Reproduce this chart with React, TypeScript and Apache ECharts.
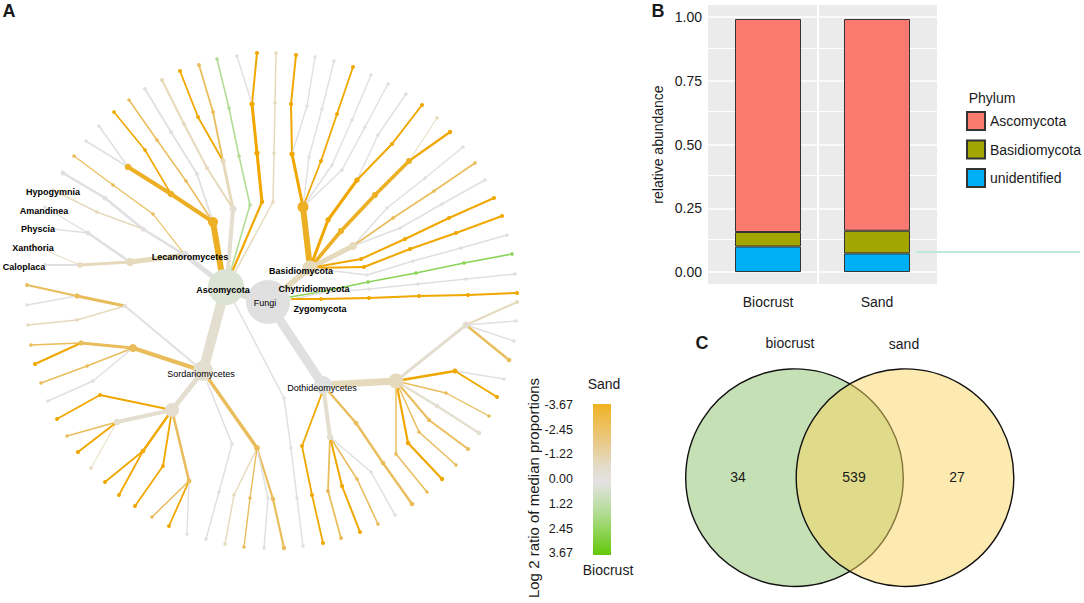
import React, { useEffect, useRef } from "react";
import * as echarts from "echarts";

// ---------- Panel B data ----------
const samples = ["Biocrust", "Sand"];
const phyla = ["Ascomycota", "Basidiomycota", "unidentified"];
const unidentified = [0.1, 0.073];
const basidiomycota = [0.057, 0.089];
const ascomycota = [0.836, 0.831];
const relTicks = [0, 0.25, 0.5, 0.75, 1];
const relMinor = [0.125, 0.375, 0.625, 0.875];

// ---------- Panel A legend ----------
const ratioTicks = ["-3.67", "-2.45", "-1.22", "0.00", "1.22", "2.45", "3.67"];

// ---------- Panel C data ----------
const vennCounts = ["34", "539", "27"];
const vennNames = ["biocrust", "sand"];

// ---------- Panel A data: [log2 ratio, abundance, x, y, x, y, ...] ----------
const O = -3.67, O2 = -3.2, T = -2.5, S = -1.25, P = -0.6, Z = 0, GL = 1.6, G = 3.2;
const lecanoro = [
  [0.2, 10, 226, 287, 268, 302],
  [Z, 5, 226, 287, 185, 255],
  [S, 5, 185, 255, 130, 262],
  [S, 3.2, 130, 262, 80, 265],
  [Z, 2, 80, 265, 45, 265],
  [S, 1, 80, 265, 33, 245],
  [Z, 2.6, 130, 262, 88, 233],
  [Z, 1.4, 88, 233, 45, 207],
  [Z, 1.4, 88, 233, 53, 229],
  [Z, 2.6, 185, 255, 143, 229, 105, 198, 63, 173],
  [S, 1.4, 143, 229, 97, 212, 53, 190],
  [T, 1.2, 185, 255, 153, 214, 113, 185, 74, 156],
  [O2, 6, 222, 275, 213, 222],
  [O2, 4, 213, 222, 171, 194, 128, 167],
  [Z, 1.5, 128, 167, 99, 126],
  [Z, 1.5, 128, 167, 86, 141],
  [O, 1.6, 171, 194, 145, 150, 114, 112],
  [T, 1.5, 213, 222, 186, 181, 157, 140, 129, 100],
  [Z, 1.8, 213, 222, 197, 174, 171, 132, 145, 89],
  [P, 4, 228, 270, 233, 209],
  [S, 2, 233, 209, 207, 168, 184, 124, 162, 80],
  [S, 3, 233, 209, 223, 161],
  [O, 1.8, 223, 161, 198, 117, 180, 71],
  [T, 1.8, 223, 161, 213, 112, 199, 65],
  [GL, 1.6, 231, 270, 250, 205, 239, 156, 229, 108, 217, 59],
  [O, 2.2, 232, 272, 262, 202],
  [O, 3, 262, 202, 257, 153, 252, 104],
  [O, 2, 252, 104, 257, 53],
  [Z, 1.4, 252, 104, 237, 56],
  [S, 1.5, 235, 272, 273, 202, 274, 153, 275, 103, 276, 53],
];
const basidio = [
  [S, 6, 268, 302, 310, 268],
  [O2, 6, 310, 268, 303, 207],
  [O, 3, 303, 207, 292, 154],
  [O, 2, 292, 154, 291, 104, 296, 55],
  [Z, 1.4, 292, 154, 307, 106, 315, 57],
  [Z, 1.4, 303, 207, 309, 157, 322, 109, 334, 61],
  [O, 1.8, 303, 207, 321, 161, 337, 114, 353, 67],
  [Z, 1.4, 303, 207, 332, 165, 352, 120, 371, 75],
  [Z, 1.4, 303, 207, 342, 170, 365, 127, 388, 84],
  [Z, 1.4, 357, 180, 378, 135, 406, 94],
  [O, 3, 310, 268, 328, 220, 357, 180],
  [O, 2, 357, 180, 392, 144, 422, 105],
  [O2, 3.6, 310, 268, 341, 231, 375, 195, 409, 161],
  [O, 2.2, 409, 161, 450, 132],
  [S, 1, 409, 161, 437, 118],
  [S, 5, 310, 268, 353, 246],
  [Z, 1.4, 353, 246, 387, 208, 425, 178, 463, 147],
  [T, 1.6, 353, 246, 393, 218, 434, 191, 475, 163],
  [Z, 1.5, 353, 246, 400, 228, 442, 204, 485, 180],
  [O, 2, 310, 268, 361, 259, 405, 239, 449, 218, 494, 198],
  [O, 2, 310, 268, 364, 267, 410, 249, 456, 233, 502, 216],
  [Z, 1.5, 310, 268, 367, 275, 413, 261, 461, 248, 507, 235],
];
const earlyPhyla = [
  [G, 1.6, 290, 297, 320, 292, 368, 282, 416, 273, 464, 263, 512, 254],
  [Z, 1.5, 290, 300, 320, 293, 369, 289, 418, 284, 466, 279, 515, 274],
  [O, 2, 292, 299, 321, 299, 369, 298, 419, 296, 468, 295, 517, 293],
];
const dothideo = [
  [Z, 9, 268, 302, 323, 385],
  [S, 7, 323, 385, 396, 381],
  [P, 3, 396, 381, 466, 325],
  [S, 2, 466, 325, 517, 302],
  [Z, 1.4, 466, 325, 516, 321],
  [Z, 1.4, 466, 325, 514, 341],
  [T, 2.4, 466, 325, 509, 360],
  [O, 2.6, 396, 381, 455, 371],
  [Z, 1.4, 455, 371, 504, 379],
  [O, 2, 455, 371, 497, 397],
  [T, 1.4, 396, 381, 446, 393, 489, 416],
  [P, 2.4, 396, 381, 437, 406, 479, 433],
  [T, 2, 396, 381, 429, 420, 468, 449],
  [T, 1.5, 396, 381, 419, 432, 456, 465],
  [O, 2.2, 396, 381, 408, 443, 442, 479],
  [T, 1.5, 396, 381, 396, 454, 427, 492],
  [T, 2.4, 323, 385, 356, 423, 383, 463, 412, 504],
  [P, 4, 323, 385, 330, 437],
  [O, 1.8, 322, 393, 302, 446, 312, 495, 323, 543],
  [T, 1.8, 330, 437, 328, 491, 341, 538],
  [O, 2, 330, 437, 342, 486, 360, 532],
  [T, 1.6, 330, 437, 357, 479, 378, 524],
  [Z, 1.5, 330, 437, 371, 472, 395, 515],
  [Z, 1.5, 233, 300, 284, 398, 291, 448, 297, 498, 303, 546],
];
const sordario = [
  [P, 10, 222, 300, 203, 371],
  [Z, 2, 203, 371, 125, 306],
  [T, 3, 125, 306, 77, 296],
  [T, 1.8, 77, 296, 27, 285],
  [Z, 1.4, 77, 296, 27, 305],
  [S, 1.4, 125, 306, 77, 320, 28, 325],
  [T, 4, 203, 371, 133, 348],
  [T, 3, 133, 348, 81, 343],
  [T, 1.6, 81, 343, 31, 345],
  [O, 2, 81, 343, 35, 364],
  [T, 1.5, 133, 348, 87, 366, 41, 383],
  [Z, 1.4, 133, 348, 93, 381, 48, 401],
  [P, 5, 203, 371, 172, 410],
  [O, 1.8, 172, 410, 100, 395, 57, 419],
  [P, 4, 172, 410, 117, 422],
  [T, 1.5, 117, 422, 67, 436],
  [O, 2, 117, 422, 78, 452],
  [S, 1, 117, 422, 91, 468],
  [O, 2.4, 172, 410, 143, 451],
  [O, 1.8, 143, 451, 105, 482],
  [O, 1.8, 143, 451, 119, 495],
  [O, 1.8, 172, 410, 163, 466, 135, 506],
  [T, 2.6, 172, 410, 189, 481],
  [T, 1.5, 189, 481, 152, 517],
  [O, 1.8, 189, 481, 169, 526],
  [Z, 1.4, 189, 481, 187, 534],
  [Z, 1.5, 207, 382, 232, 444, 219, 492, 206, 539],
  [T, 3.4, 203, 371, 257, 448],
  [S, 1.4, 257, 448, 234, 495, 225, 544],
  [T, 1.4, 257, 448, 250, 498, 244, 547],
  [T, 2.2, 257, 448, 273, 499, 284, 548],
  [Z, 1.4, 257, 448, 268, 498, 264, 548],
];
const hubs = [
  [226, 287, 36, 0.4],
  [268, 302, 44, 0],
  [310, 268, 15, S],
  [303, 207, 11, O2],
  [323, 385, 18, Z],
  [396, 381, 15, S],
  [203, 371, 20, P],
  [172, 410, 14, P],
  [133, 348, 8, T],
  [213, 222, 10, O2],
  [233, 209, 7, P],
  [466, 325, 7, P],
  [130, 262, 8, S],
];
const boldLabels: [string, number, number][] = [
  ["Hypogymnia", 53, 192],
  ["Amandinea", 44, 211],
  ["Physcia", 38, 229],
  ["Xanthoria", 33, 248],
  ["Caloplaca", 24, 267],
  ["Lecanoromycetes", 190, 257],
  ["Ascomycota", 223, 290],
  ["Basidiomycota", 301, 271],
  ["Chytridiomycota", 314, 289],
  ["Zygomycota", 320, 309],
];
const plainLabels: [string, number, number][] = [
  ["Fungi", 265, 303],
  ["Sordariomycetes", 201, 374],
  ["Dothideomycetes", 322, 388],
];

const ramp: [number, number[]][] = [
  [-3.67, [240, 168, 0]],
  [-2.45, [233, 190, 96]],
  [-1.22, [230, 219, 190]],
  [0, [224, 224, 224]],
  [1.22, [190, 222, 165]],
  [2.45, [155, 216, 115]],
  [3.67, [125, 210, 72]],
];
function ratioColor(v: number): string {
  for (let i = 0; i < ramp.length - 1; i++) {
    const [a, ca] = ramp[i];
    const [b, cb] = ramp[i + 1];
    if (v <= b) {
      const t = Math.max(0, (v - a) / (b - a));
      const c = ca.map((u, k) => Math.round(u + (cb[k] - u) * t));
      return `rgb(${c[0]},${c[1]},${c[2]})`;
    }
  }
  return "rgb(125,210,72)";
}

const branches = [...lecanoro, ...basidio, ...earlyPhyla, ...dothideo, ...sordario];
const segments: number[][] = [];
const nodes: number[][] = [];
branches.forEach((b) => {
  const [ratio, ab] = b;
  for (let i = 2; i + 3 < b.length; i += 2) {
    segments.push([b[i], b[i + 1], b[i + 2], b[i + 3], ratio, ab]);
    nodes.push([b[i + 2], b[i + 3], Math.max(3.6, ab * 1.2 + 1.8), ratio]);
  }
});

const FONT = "'Liberation Sans', Arial, sans-serif";
const INK = "#1a1a1a";

function text(t: string, x: number, y: number, size: number, extra: any = {}) {
  return {
    type: "text",
    x,
    y,
    z: 20,
    silent: true,
    ...extra,
    style: {
      text: t,
      fontFamily: FONT,
      fontSize: size,
      fill: INK,
      textAlign: "center",
      textVerticalAlign: "middle",
      ...(extra.style || {}),
    },
  };
}

const REL_MIN = -0.047;
const REL_MAX = 1.048;

export default function App() {
  const ref = useRef<HTMLDivElement>(null);
  useEffect(() => {
    document.body.style.margin = "0";
    const chart = echarts.init(ref.current!, null, { renderer: "svg" });
    const barCommon = {
      type: "bar",
      stack: "rel",
      xAxisIndex: 2,
      yAxisIndex: 2,
      barWidth: 66,
      z: 3,
    };
    chart.setOption({
      animation: false,
      textStyle: { fontFamily: FONT },
      grid: [
        { left: 0, top: 0, width: 1084, height: 603 },
        { left: 708, top: 5, width: 229, height: 279, show: true, backgroundColor: "#ebebeb", borderWidth: 0 },
        { left: 713.5, top: 5, width: 218, height: 279 },
      ],
      xAxis: [
        { type: "value", gridIndex: 0, min: 0, max: 1084, show: false },
        { type: "value", gridIndex: 1, min: 0, max: 1, show: false },
        {
          type: "category",
          gridIndex: 2,
          data: samples,
          axisLine: { show: false },
          axisTick: { show: false },
          axisLabel: { margin: 11, fontSize: 14, color: INK },
        },
      ],
      yAxis: [
        { type: "value", gridIndex: 0, min: 0, max: 603, inverse: true, show: false },
        {
          type: "value",
          gridIndex: 1,
          min: REL_MIN,
          max: REL_MAX,
          name: "relative abundance",
          nameLocation: "middle",
          nameGap: 43,
          nameTextStyle: { fontSize: 14, color: INK },
          axisLine: { show: false },
          axisTick: { show: false, customValues: relTicks },
          axisLabel: {
            customValues: relTicks,
            margin: 6,
            fontSize: 14,
            color: INK,
            formatter: (v: number) => v.toFixed(2),
          },
          splitLine: { show: true, lineStyle: { color: "#ffffff", width: 1.6 } },
        },
        { type: "value", gridIndex: 2, min: REL_MIN, max: REL_MAX, show: false },
      ],
      legend: {
        data: phyla,
        orient: "vertical",
        left: 966,
        top: 111,
        padding: 0,
        itemWidth: 18,
        itemHeight: 18,
        itemGap: 8.5,
        icon: "rect",
        selectedMode: false,
        textStyle: { fontSize: 14, color: INK, fontFamily: FONT },
      },
      series: [
        {
          type: "line",
          xAxisIndex: 1,
          yAxisIndex: 1,
          data: [],
          z: 1,
          markLine: {
            silent: true,
            z: 1,
            symbol: "none",
            label: { show: false },
            lineStyle: { color: "#ffffff", width: 1, type: "solid" },
            data: [
              ...relMinor.map((v) => ({ yAxis: v })),
              { xAxis: (817 - 708) / 229, lineStyle: { color: "#ffffff", width: 2, type: "solid" } },
            ],
          },
        },
        {
          ...barCommon,
          name: "unidentified",
          data: unidentified,
          itemStyle: { color: "#00b0f6", borderColor: "#333333", borderWidth: 1 },
        },
        {
          ...barCommon,
          name: "Basidiomycota",
          data: basidiomycota,
          itemStyle: { color: "#a3a500", borderColor: "#333333", borderWidth: 1 },
        },
        {
          ...barCommon,
          name: "Ascomycota",
          data: ascomycota,
          itemStyle: { color: "#fb7a70", borderColor: "#333333", borderWidth: 1 },
        },
        {
          type: "custom",
          xAxisIndex: 0,
          yAxisIndex: 0,
          z: 2,
          silent: true,
          clip: false,
          data: segments,
          renderItem: (_: any, api: any) => {
            const a = api.coord([api.value(0), api.value(1)]);
            const b = api.coord([api.value(2), api.value(3)]);
            return {
              type: "line",
              shape: { x1: a[0], y1: a[1], x2: b[0], y2: b[1] },
              style: { stroke: ratioColor(api.value(4)), lineWidth: api.value(5), lineCap: "round" },
            };
          },
        },
        {
          type: "scatter",
          xAxisIndex: 0,
          yAxisIndex: 0,
          z: 3,
          silent: true,
          data: nodes,
          symbolSize: (d: number[]) => d[2],
          itemStyle: { opacity: 1, color: (p: any) => ratioColor(p.value[3]) },
        },
        {
          type: "scatter",
          xAxisIndex: 0,
          yAxisIndex: 0,
          z: 4,
          silent: true,
          data: hubs,
          symbolSize: (d: number[]) => d[2],
          itemStyle: {
            opacity: 1,
            color: (p: any) => (p.value[3] === 0.4 ? "#dbe3d5" : ratioColor(p.value[3])),
          },
        },
        {
          type: "scatter",
          xAxisIndex: 0,
          yAxisIndex: 0,
          z: 5,
          silent: true,
          symbolSize: 0,
          itemStyle: { opacity: 1 },
          data: boldLabels.map((l) => ({ name: l[0], value: [l[1], l[2]] })),
          label: {
            show: true,
            position: "inside",
            formatter: "{b}",
            fontSize: 9,
            fontWeight: "bold",
            color: "#000000",
            fontFamily: FONT,
          },
        },
        {
          type: "scatter",
          xAxisIndex: 0,
          yAxisIndex: 0,
          z: 5,
          silent: true,
          symbolSize: 0,
          itemStyle: { opacity: 1 },
          data: plainLabels.map((l) => ({ name: l[0], value: [l[1], l[2]] })),
          label: {
            show: true,
            position: "inside",
            formatter: "{b}",
            fontSize: 9,
            color: "#000000",
            fontFamily: FONT,
          },
        },
      ],
      graphic: [
        text("A", 9, 11, 18, { style: { fontWeight: "bold" } }),
        text("B", 658, 11, 18, { style: { fontWeight: "bold" } }),
        text("C", 702, 343, 18, { style: { fontWeight: "bold" } }),
        text("Phylum", 992, 98, 14),
        {
          type: "line",
          z: 10,
          silent: true,
          shape: { x1: 916, y1: 252, x2: 1080, y2: 252 },
          style: { stroke: "#bde9da", lineWidth: 2 },
        },
        {
          type: "rect",
          z: 10,
          silent: true,
          shape: { x: 593, y: 404, width: 18, height: 151 },
          style: {
            fill: new echarts.graphic.LinearGradient(0, 0, 0, 1, [
              { offset: 0, color: "#f0b322" },
              { offset: 0.25, color: "#e9c987" },
              { offset: 0.42, color: "#e4dccb" },
              { offset: 0.52, color: "#e2e2e2" },
              { offset: 0.72, color: "#b3dc94" },
              { offset: 1, color: "#62c80a" },
            ]),
          },
        },
        ...ratioTicks.map((t, i) =>
          text(t, 573, 405 + i * 24.7, 12.5, { style: { textAlign: "right" } })
        ),
        text("Sand", 604, 384, 14),
        text("Biocrust", 608, 570, 14),
        text("Log 2 ratio of median proportions", 533, 488, 15, { rotation: Math.PI / 2 }),
        {
          type: "circle",
          z: 10,
          silent: true,
          shape: { cx: 794.5, cy: 477.7, r: 108.8 },
          style: { fill: "#c5e0b4", stroke: "#111111", lineWidth: 1.4 },
        },
        {
          type: "circle",
          z: 11,
          silent: true,
          shape: { cx: 905, cy: 477.7, r: 108.8 },
          style: { fill: "rgba(251,213,97,0.5)", stroke: "#111111", lineWidth: 1.4 },
        },
        text(vennNames[0], 790, 343, 14),
        text(vennNames[1], 904, 344, 14),
        text(vennCounts[0], 738, 477, 14),
        text(vennCounts[1], 854, 477, 14),
        text(vennCounts[2], 957, 477, 14),
      ],
    });
    return () => chart.dispose();
  }, []);
  return <div ref={ref} style={{ position: "absolute", left: 0, top: 0, width: 1084, height: 603 }} />;
}
